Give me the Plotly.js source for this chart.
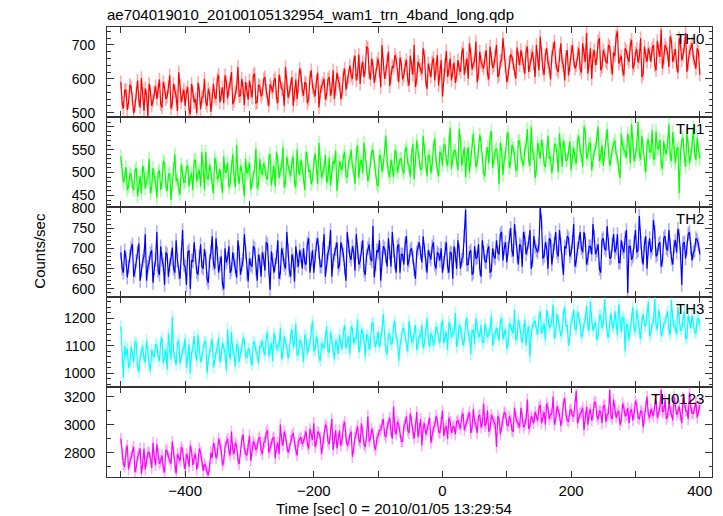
<!DOCTYPE html>
<html>
<head>
<meta charset="utf-8">
<script src="https://cdn.plot.ly/plotly-3.0.1.min.js"></script>
<style>html,body{margin:0;padding:0;background:#fff;}#chart{width:723px;height:516px;}</style>
</head>
<body>
<div id="chart"></div>
<script>
// Light-curve bins, seconds from 2010/01/05 13:29:54.
// "A" arrays hold bins starting at -500 s, "B" arrays the bins 2 s later; both every 4 s.
const A_START = -500;
const B_START = -498;
const STEP_SEC = 4;

const panelNames = ['TH0', 'TH1', 'TH2', 'TH3', 'TH0123'];

const th0A = [590,512,568,530,575,498,556,538,602,505,549,585,520,560,
  540,598,515,572,547,610,528,563,505,580,552,
  520,575,495,560,540,588,510,548,530,570,502,
  585,540,612,555,528,590,570,620,535,575,548,600,522,568,595,545,615,530,578,556,605,540,584,
  560,602,528,590,568,635,545,580,520,598,575,612,550,585,540,625,565,592,515,578,600,
  555,605,570,540,618,585,560,630,590,
  640,600,668,615,585,650,628,690,598,635,612,660,575,642,620,680,605,632,658,590,645,
  610,655,580,632,700,600,640,615,665,570,625,648,595,670,618,548,640,605,660,625,588,
  655,620,690,638,600,672,645,710,615,650,630,685,598,660,640,700,612,655,675,590,648,665,625,692,640,
  660,615,695,640,680,605,655,725,630,670,648,598,688,650,620,705,640,665,610,678,655,
  640,690,618,672,735,650,600,685,660,720,635,670,645,695,612,668,740,655,625,690,660,700,630,675,648,720,615,668,690,
  650,700,625,685,745,660,690,635,710,668,640,720,655,695,620,680,705,650,690,612];
const th0B = [530,565,508,582,540,520,595,515,555,572,490,562,535,578,
  565,525,590,540,575,512,585,548,620,530,568,
  560,510,585,530,498,565,545,600,520,555,538,
  548,598,530,575,610,542,588,525,560,635,550,572,590,538,562,610,528,582,548,598,565,520,575,
  595,545,612,570,520,588,560,605,555,540,630,568,590,528,602,575,548,618,560,585,538,
  598,550,625,572,595,540,612,568,605,
  610,650,595,672,630,605,695,618,660,588,645,625,700,600,652,578,638,670,612,662,598,
  640,598,668,612,575,650,628,690,595,645,605,662,630,580,655,612,682,628,595,648,610,
  630,675,612,660,705,628,652,590,680,640,662,615,695,632,668,605,650,720,638,610,672,645,600,660,685,
  638,680,620,668,645,700,625,672,612,690,635,665,710,628,672,650,595,685,640,700,630,
  675,630,705,650,615,690,668,640,710,625,685,652,700,638,678,725,645,668,610,682,650,715,640,688,665,605,695,650,675,
  690,640,712,665,630,700,675,725,650,688,618,702,670,735,645,690,662,630,680];

const th1A = [535,478,512,470,
  495,462,510,478,455,500,485,530,468,492,445,505,480,520,460,498,475,540,488,452,502,
  480,515,490,462,528,498,470,510,545,485,500,455,520,492,478,535,502,468,512,490,560,475,505,448,498,522,480,510,465,530,495,
  510,485,540,498,470,525,505,555,480,515,492,535,468,508,528,490,545,502,475,520,512,565,488,510,478,532,500,518,460,525,
  505,545,490,530,512,475,560,520,498,538,482,525,550,505,470,535,515,580,500,528,490,545,512,
  530,498,555,515,540,485,570,525,510,550,492,535,520,575,505,545,515,
  560,515,598,530,548,505,570,535,490,555,528,585,512,545,565,498,540,520,590,532,552,475,548,530,575,510,560,538,505,568,525,550,595,515,542,488,565,530,555,512,580,535,520,560,500,548,570,525,545,505,
  555,520,580,538,600,530,562,505,548,575,525,560,540,595,515,552,570,532,488,558,545,585,520,565,538,610,528,555,500,572,545,530,590,552,518,568,540,605,525,560,548,455,570,535,585,520,558,542,575,530];
const th1B = [505,490,462,498,
  470,505,448,492,515,465,488,455,510,478,500,462,525,472,495,440,508,482,465,518,478,
  512,470,498,525,480,505,545,462,490,518,472,532,485,508,455,500,522,478,540,468,495,515,482,530,505,462,488,552,475,502,520,
  490,528,472,515,545,488,512,468,535,500,522,480,550,495,510,462,530,505,485,542,475,518,500,538,490,472,525,548,495,512,
  535,492,522,550,505,540,488,528,565,510,495,545,520,475,538,502,555,525,490,512,548,500,530,
  505,548,520,490,562,530,545,505,580,518,538,498,555,525,492,540,560,
  525,570,508,548,530,595,515,555,538,500,568,545,520,582,530,492,555,575,510,548,530,565,495,540,588,522,552,505,570,535,515,560,528,600,540,508,550,572,518,545,530,498,562,540,585,512,555,528,568,540,
  530,570,548,512,590,540,565,525,552,600,535,515,575,548,528,562,540,510,585,550,532,568,605,525,558,540,580,518,562,545,592,530,552,572,508,548,565,535,588,520,555,542,575,512,560,538,598,528,550];

const th2A = [690,640,675,655,700,630,668,712,645,680,620,665,695,650,740,635,672,610,685,660,702,640,670,625,745,655,690,600,668,680,635,710,650,675,615,690,662,725,640,680,600,665,705,648,672,628,690,660,735,638,675,655,700,620,668,690,645,710,598,672,660,720,640,685,650,695,630,670,705,655,680,
  700,660,725,675,640,710,690,655,735,670,700,630,685,715,660,695,650,740,680,705,645,690,668,720,635,700,675,755,660,690,620,705,680,725,655,695,640,710,685,660,730,670,700,648,690,715,665,695,640,680,705,660,690,
  670,640,700,655,690,625,685,720,650,680,795,660,695,640,675,710,630,690,665,705,645,680,
  720,685,740,700,665,730,695,760,680,710,655,725,700,745,670,705,690,800,675,715,650,720,695,740,680,710,635,700,725,690,760,670,715,700,740,660,705,685,730,695,650,720,700,755,675,710,690,735,665,700,725,590,705,680,745,695,715,660,730,700,690,770,680,710,655,725,700,745,675,705,690,730,610,715,700,740,670,695,720,685];
const th2B = [650,695,628,680,710,645,690,620,670,735,655,688,615,672,645,705,660,690,630,675,650,720,640,685,660,610,695,670,715,642,680,655,698,625,670,730,650,688,662,612,700,675,640,690,655,720,635,672,690,618,660,705,648,685,630,675,715,650,692,640,678,625,700,660,740,645,685,618,670,695,650,
  665,712,640,695,680,725,655,700,630,688,745,670,698,650,715,685,620,705,672,690,735,660,700,645,682,710,668,628,695,720,675,700,655,690,740,665,705,640,685,712,658,695,678,625,700,688,730,660,695,672,715,650,685,
  700,665,715,640,688,705,650,695,672,730,660,690,635,705,678,650,720,668,695,640,700,675,
  690,735,670,715,700,750,680,725,660,705,740,685,715,650,730,695,710,765,680,700,725,660,712,690,745,670,705,730,680,715,655,700,740,690,720,675,705,760,685,710,640,725,695,712,678,735,700,665,720,690,745,705,672,715,690,780,680,710,650,725,700,740,685,715,670,730,695,705,660,720,748,688,712,675,735,700,690,725,710];

const th3A = [1170,985,
  1060,1020,1095,1040,1110,1005,1075,1050,1120,1030,1085,1060,
  1100,1045,1130,1070,1015,1090,1205,1055,1110,1035,1080,1125,1060,1000,1095,1070,1140,1040,1085,1115,1050,1100,1020,1075,1130,1060,1095,1010,1080,1150,1065,1105,1040,1090,1120,1055,1085,1030,1110,1070,1100,
  1120,1065,1150,1090,1045,1130,1100,1165,1075,1110,1055,1140,1095,1180,1070,1115,1040,1125,1100,1155,1080,1135,1060,1110,1090,1170,1075,1120,1050,1105,
  1140,1090,1175,1115,1070,1160,1125,1195,1100,1145,1060,1135,1110,1185,1095,1150,1120,1215,1080,1140,1105,1170,1130,1045,1125,1160,1100,1190,1115,1150,1085,1140,1175,1110,1200,1095,1135,1120,
  1160,1110,1195,1135,1085,1175,1150,1220,1120,1165,1100,1185,1140,1070,1155,1200,1130,1175,1110,1160,1145,1210,1125,
  1165,1120,1200,1145,1090,1180,1155,1230,1130,1170,1110,1195,1150,1060,1175,
  1190,1140,1225,1165,1120,1205,1175,1250,1150,1195,1135,1215,1170,1100,1185,1230,1160,1200,1130,1180,1245,1155,1195,1175,1120,1210,1165,1270,1145,1190,1170,1225,1140,1185,1205,1080,1175,1160,1240,1150,1195,1125,1215,1170,1260,1145,1190,1175,1230,1135,1180,1205,1155,1265,1170,1140,1200,1160,1225,1130,1185,1210,1150,1195,1175];
const th3B = [1045,1100,
  1090,1035,1070,1115,1025,1060,1100,1040,1080,1010,1065,1105,
  1060,1115,1035,1085,1145,1050,1075,1030,1120,1065,1095,1020,1105,1070,1135,1045,1090,1060,1115,1000,1080,1125,1055,1095,1040,1110,1070,1160,1050,1085,1025,1100,1075,1130,1060,1090,1045,1115,1080,1035,1095,
  1080,1125,1060,1110,1145,1085,1100,1050,1135,1095,1075,1160,1110,1065,1120,1090,1140,1070,1105,1190,1085,1115,1045,1100,1130,1080,1150,1095,1120,1070,
  1105,1150,1090,1135,1170,1110,1125,1075,1160,1120,1140,1085,1180,1115,1130,1095,1155,1125,1070,1145,1110,1190,1120,1100,1165,1135,1080,1150,1115,1175,1105,1130,1090,1160,1125,1145,1100,1170,
  1125,1165,1110,1150,1185,1130,1145,1095,1175,1140,1120,1200,1135,1155,1105,1170,1140,1115,1180,1130,1160,1100,1150,
  1140,1185,1125,1160,1105,1175,1145,1120,1195,1135,1155,1100,1170,1140,1185,
  1160,1205,1145,1180,1230,1165,1190,1125,1215,1170,1150,1240,1175,1135,1200,1160,1225,1180,1145,1195,1170,1260,1155,1185,1140,1210,1175,1195,1130,1220,1165,1185,1250,1150,1200,1175,1120,1205,1160,1230,1145,1190,1175,1215,1135,1180,1270,1160,1200,1150,1185,1225,1140,1195,1170,1240,1155,1190,1125,1210,1165,1185,1145,1200];

const th0123A = [2900,2720,2810,2680,2760,2840,2700,2790,2650,2830,2740,2800,2690,2770,2860,2720,2780,2660,2810,2750,2880,2700,2790,2740,2820,2680,2760,2850,2710,2790,2730,2800,2670,2700,2640,
  2800,2870,2760,2900,2820,2740,2880,2810,2950,2790,2850,2720,2890,2830,2780,2920,2810,2860,
  2840,2910,2790,2880,2960,2830,2900,2760,2870,3000,2850,2920,2800,2890,2940,2820,2880,2910,
  2880,2950,2830,2920,3010,2870,2940,2790,2910,2980,2860,3040,2900,2830,2960,2890,3020,2850,2930,2770,2910,2990,2870,2950,2840,3060,2900,2940,2820,2920,
  2960,3040,2910,3010,2950,3130,2930,3000,2880,2990,3060,2940,3020,2900,3090,2970,2850,3010,2960,3050,2920,2990,3030,2940,3100,2970,2900,3020,2980,2930,
  3030,2970,3080,2990,3050,2940,3110,3000,3060,2980,3150,3010,2950,3070,3020,2840,3040,2990,3090,3000,3060,2960,3120,3020,2980,3050,3000,3180,2990,3040,
  3090,3030,3140,3060,3000,3120,3070,3200,3040,3100,2990,3150,3070,3020,3110,3060,3240,3050,3090,2960,3130,3080,3030,3160,3060,3100,3010,3140,3070,3250,3040,3110,3080,3000,3150,3060,3120,3090,3030,3170,3050,3100,2980,3130,3070,
  3110,3060,3170,3080,3250,3100,3040,3150,3090,3200,3070,3130,3010,3160,3100,3230,3080,3120,3050,3140];
const th0123B = [2790,2700,2850,2740,2810,2660,2770,2830,2720,2680,2800,2760,2870,2710,2790,2740,2690,2820,2770,2720,2800,2650,2760,2840,2730,2790,2700,2810,2760,2680,2830,2740,2720,2660,2700,
  2760,2830,2790,2860,2710,2840,2900,2780,2820,2870,2750,2810,2930,2790,2850,2740,2880,2820,
  2900,2820,2870,2940,2800,2860,2910,2840,2790,2890,2950,2850,2830,2920,2870,2780,2900,2860,
  2920,2860,2970,2890,2840,2950,2910,2870,3000,2880,2930,2820,2960,2900,2850,2990,2910,2870,2950,2830,2940,2890,3010,2860,2920,2880,2970,2850,2900,2960,
  3000,2930,2980,3050,2900,2970,3020,2950,2880,3010,2960,3080,2940,2990,2910,3040,2980,2930,3000,2870,2980,3060,2950,3010,2920,2990,3050,2940,2990,3020,
  3000,3060,2960,3030,3090,2980,3020,2940,3070,3010,2990,3100,2970,3040,3000,3060,2930,3020,3080,2990,3030,2950,3050,3010,3120,2980,3040,2970,3060,3010,
  3060,3120,3010,3090,3150,3040,3080,3000,3130,3070,3050,3190,3030,3100,3060,3140,3010,3080,3120,3050,3000,3110,3070,3160,3040,3090,3130,3020,3080,3060,3180,3050,3100,3030,3120,3070,3010,3110,3080,3140,3040,3090,3060,3200,3050,
  3080,3140,3050,3120,3090,3180,3060,3110,3030,3150,3090,3070,3190,3100,3040,3130,3080,3160,3100];

// approximate 1-sigma error per bin for each band (counts/sec)
const errSigma = [20, 15, 17, 22, 42];

const seriesA = [th0A, th1A, th2A, th3A, th0123A];
const seriesB = [th0B, th1B, th2B, th3B, th0123B];
const lineColors = ['#ff0000', '#00ff00', '#0000ff', '#00ffff', '#ff00ff'];
const errColors = ['rgba(255,40,40,0.4)', 'rgba(40,255,40,0.4)', 'rgba(50,50,255,0.4)', 'rgba(40,255,255,0.4)', 'rgba(255,40,255,0.4)'];
const yRanges = [[487, 753], [425, 621], [580, 802], [950, 1277], [2626, 3269]];
const yDticks = [100, 50, 50, 100, 200];
const yMinor = [20, 10, 10, 20, 100];

function mergeBins(a, b) {
  const pts = [];
  a.forEach((v, i) => pts.push([A_START + i * STEP_SEC, v]));
  b.forEach((v, i) => pts.push([B_START + i * STEP_SEC, v]));
  pts.sort((p, q) => p[0] - q[0]);
  return {t: pts.map(p => p[0]), v: pts.map(p => p[1])};
}

const FONT = 'Liberation Sans, Arial, Helvetica, sans-serif';
const traces = [];
const layout = {
  width: 723, height: 516,
  margin: {l: 107, r: 11, t: 27, b: 39},
  paper_bgcolor: '#fff', plot_bgcolor: '#fff',
  showlegend: false,
  font: {family: FONT, size: 14, color: '#000'},
  title: {text: 'ae704019010_20100105132954_wam1_trn_4band_long.qdp', x: 107/723, xanchor: 'left', y: 1 - 15/516, yanchor: 'middle', font: {family: FONT, size: 15, color: '#000'}},
  annotations: []
};

const n = seriesA.length;
for (let k = 0; k < n; k++) {
  const d = mergeBins(seriesA[k], seriesB[k]);
  const sx = k === 0 ? '' : String(k + 1);
  traces.push({
    type: 'scatter', mode: 'lines',
    x: d.t, y: d.v,
    xaxis: 'x' + sx, yaxis: 'y' + sx,
    line: {color: lineColors[k], width: 1.2},
    error_y: {type: 'constant', value: errSigma[k], color: errColors[k], thickness: 1.6, width: 0},
    hoverinfo: 'skip'
  });
  const top = 1 - k / n, bottom = 1 - (k + 1) / n;
  layout['yaxis' + sx] = {
    domain: [bottom, top], range: yRanges[k], anchor: 'x' + sx,
    showline: true, linecolor: '#333', linewidth: 1, mirror: 'ticks',
    ticks: 'inside', ticklen: 7, tickwidth: 1, tickcolor: '#333',
    dtick: yDticks[k], tick0: 0,
    minor: {dtick: yMinor[k], tick0: 0, ticks: 'inside', ticklen: 3.5, tickcolor: '#333', tickwidth: 1},
    showgrid: false, zeroline: false,
    ticklabelstandoff: 8,
    tickfont: {family: FONT, size: 14, color: '#000'}
  };
  const xa = {
    range: [-521.5, 419], anchor: 'y' + sx,
    showline: true, linecolor: '#333', linewidth: 1, mirror: 'ticks',
    ticks: 'inside', ticklen: 6, tickwidth: 1, tickcolor: '#333',
    dtick: 200, tick0: 0,
    minor: {dtick: 100, tick0: 0, ticks: 'inside', ticklen: 6, tickcolor: '#333', tickwidth: 1},
    showgrid: false, zeroline: false,
    showticklabels: k === n - 1,
    tickfont: {family: FONT, size: 15, color: '#000'}
  };
  if (k > 0) xa.matches = 'x';
  layout['xaxis' + sx] = xa;
  layout.annotations.push({
    text: panelNames[k], xref: 'paper', yref: 'paper', x: 1, y: top,
    xanchor: 'right', yanchor: 'top', xshift: -6, yshift: -1, showarrow: false,
    font: {family: FONT, size: 15, color: '#000'}
  });
}

layout.annotations.push({
  text: 'Counts/sec', xref: 'paper', yref: 'paper', x: 0, y: 0.503,
  xanchor: 'center', yanchor: 'middle', xshift: -67, textangle: -90, showarrow: false,
  font: {family: FONT, size: 15, color: '#000'}
});
layout.annotations.push({
  text: 'Time [sec] 0 = 2010/01/05 13:29:54', xref: 'paper', yref: 'paper', x: 0.475, y: -0.069,
  xanchor: 'center', yanchor: 'middle', showarrow: false,
  font: {family: FONT, size: 15, color: '#000'}
});

Plotly.newPlot('chart', traces, layout, {displayModeBar: false, staticPlot: true});
</script>
</body>
</html>
